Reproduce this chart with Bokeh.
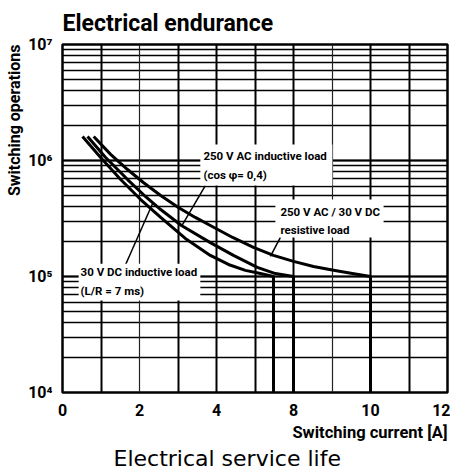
from bokeh.plotting import figure
from bokeh.models import (Range1d, FixedTicker, LogTicker, Grid, Title, Label,
                          BoxAnnotation)
from bokeh.embed import file_html
from bokeh.resources import INLINE

# ---------------- data ----------------
# x axis is drawn in equal divisions; tick labels as printed on the chart
x_tick_pos = [0, 2, 4, 6, 8, 10]
x_tick_labels = ["0", "2", "4", "8", "10", "12"]
y_tick_vals = [10000, 100000, 1000000, 10000000]
y_tick_labels = ["10\u2074", "10\u2075", "10\u2076", "10\u2077"]

# 250 V AC / 30 V DC resistive load
res_x = [0.81, 1.25, 1.69, 2.10, 2.55, 3.01, 3.45, 3.84, 4.42, 4.96, 5.48, 6.0, 6.52, 7.04, 7.53, 8.0, 8.0]
res_y = [1.61e6, 1.13e6, 8.36e5, 6.46e5, 4.99e5, 3.94e5, 3.23e5, 2.75e5, 2.17e5, 1.78e5, 1.52e5,
         1.35e5, 1.22e5, 1.13e5, 1.06e5, 1.0e5, 1.0e4]

# 250 V AC inductive load (cos phi = 0,4)
ac_ind_x = [0.65, 1.12, 1.69, 2.10, 2.55, 3.09, 3.84, 4.44, 5.06, 5.53, 6.0, 6.0]
ac_ind_y = [1.61e6, 1.06e6, 6.85e5, 5.09e5, 3.78e5, 2.75e5, 1.96e5, 1.52e5, 1.20e5, 1.06e5, 1.0e5, 1.0e4]

# 30 V DC inductive load (L/R = 7 ms)
dc_ind_x = [0.52, 0.99, 1.51, 2.03, 2.55, 3.19, 3.84, 4.31, 4.75, 5.14, 5.48, 5.48]
dc_ind_y = [1.61e6, 1.06e6, 6.85e5, 4.61e5, 3.23e5, 2.13e5, 1.52e5, 1.27e5, 1.13e5, 1.06e5, 1.0e5, 1.0e4]

# leader lines (x0, y0) -> (x1, y1)
lead_x0 = [3.71, 1.64, 5.66]
lead_y0 = [6.08e5, 1.27e5, 2.17e5]
lead_x1 = [3.09, 2.34, 5.40]
lead_y1 = [2.70e5, 4.26e5, 1.49e5]

# annotation texts
ann_text = ["250 V AC inductive load", "(cos \u03c6= 0,4)",
            "250 V AC / 30 V DC", "resistive load",
            "30 V DC inductive load", "(L/R = 7 ms)"]
ann_x = [3.66, 3.66, 5.66, 5.66, 0.47, 0.47]
ann_y = [1.10e6, 7.57e5, 3.63e5, 2.54e5, 1.10e5, 7.43e4]

# white boxes behind annotations: left, right, bottom, top
box_l = [3.58, 5.53, 0.42]
box_r = [7.01, 8.34, 3.58]
box_b = [6.08e5, 2.17e5, 6.21e4]
box_t = [1.375e6, 4.61e5, 1.29e5]

# ---------------- styling ----------------
COND = "Roboto, 'Liberation Sans', sans-serif"

p = figure(frame_width=385, frame_height=348,
           x_range=Range1d(0, 10), y_range=Range1d(1e4, 1e7),
           y_axis_type="log", output_backend="svg", toolbar_location=None,
           min_border_left=54, min_border_right=3, min_border_top=10,
           min_border_bottom=0, background_fill_color="white",
           border_fill_color="white")

p.title.text = "Electrical endurance"
p.title.text_font = COND
p.title.text_font_size = "23px"
p.title.text_font_style = "bold"
p.title.text_color = "black"
p.title.align = "left"
p.title.standoff = 15

p.outline_line_color = "black"
p.outline_line_width = 2.5
p.outline_line_alpha = 1.0

# axes
for ax in (p.xaxis[0], p.yaxis[0]):
    ax.axis_line_color = None
    ax.major_tick_line_color = None
    ax.minor_tick_line_color = None
    ax.major_label_text_font = COND
    ax.major_label_text_font_style = "bold"
    ax.major_label_text_font_size = "16px"
    ax.major_label_text_color = "black"

p.xaxis.ticker = FixedTicker(ticks=x_tick_pos)
p.xaxis.major_label_overrides = dict(zip(x_tick_pos, x_tick_labels))
p.xaxis.major_label_standoff = 5

p.yaxis.ticker = LogTicker(num_minor_ticks=10)
p.yaxis.major_label_overrides = dict(zip(y_tick_vals, y_tick_labels))
p.yaxis.major_label_standoff = 4

# grids
p.xgrid.visible = False
g_thick = Grid(dimension=0, ticker=FixedTicker(ticks=[1, 3, 4, 5, 6, 8, 9]),
               grid_line_color="black", grid_line_width=2)
g_thin = Grid(dimension=0, ticker=FixedTicker(ticks=[2, 7]),
              grid_line_color="#222222", grid_line_width=1.2)
p.add_layout(g_thick)
p.add_layout(g_thin)
p.ygrid.grid_line_color = "black"
p.ygrid.grid_line_width = 2
p.ygrid.minor_grid_line_color = "black"
p.ygrid.minor_grid_line_width = 1.6

# titles around the frame
ylab = Title(text="Switching operations", align="right", text_font=COND,
             text_font_size="16px", text_font_style="bold", text_color="black",
             standoff=4)
p.add_layout(ylab, "left")
xlab = Title(text="Switching current [A]", align="right", text_font=COND,
             text_font_size="16.5px", text_font_style="bold", text_color="black",
             standoff=4)
p.add_layout(xlab, "below")
cap = Title(text="Electrical service life", align="left", offset=51,
            text_font="'DejaVu Sans', sans-serif", text_color="black",
            text_font_size="22px", text_font_style="normal", standoff=0)
p.add_layout(cap, "below")

# curves
for xs, ys in ((res_x, res_y), (ac_ind_x, ac_ind_y), (dc_ind_x, dc_ind_y)):
    p.line(xs, ys, line_color="black", line_width=3, line_join="round")

# leaders
p.segment(lead_x0, lead_y0, lead_x1, lead_y1, line_color="black", line_width=1.5)

# white boxes and texts
for l, r, b, t in zip(box_l, box_r, box_b, box_t):
    p.add_layout(BoxAnnotation(left=l, right=r, bottom=b, top=t,
                               fill_color="white", fill_alpha=1.0,
                               line_color=None))
for tx, xx, yy in zip(ann_text, ann_x, ann_y):
    p.add_layout(Label(x=xx, y=yy, text=tx, text_font=COND,
                       text_font_size="11.5px", text_font_style="bold",
                       text_baseline="middle", text_align="left",
                       text_color="black"))

open("out.html", "w").write(file_html(p, INLINE))
